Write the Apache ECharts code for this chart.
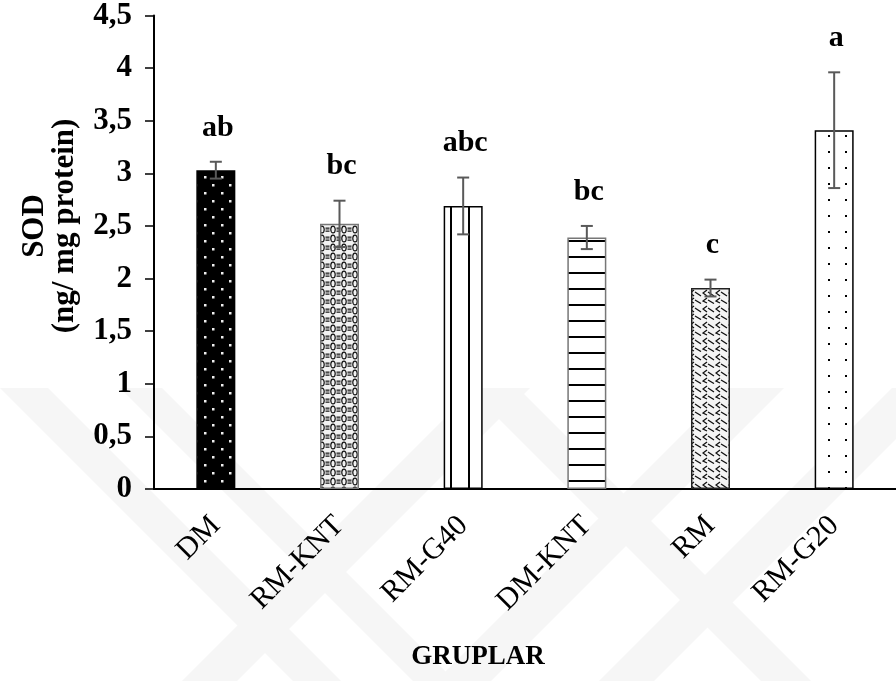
<!DOCTYPE html>
<html>
<head>
<meta charset="utf-8">
<script src="https://cdn.jsdelivr.net/npm/echarts@6/dist/echarts.min.js"></script>
<style>
  html, body { margin: 0; padding: 0; background: #ffffff; }
  #chart { width: 896px; height: 681px; }
</style>
</head>
<body>
<div id="chart"></div>
<script>
// SOD levels per group (mean ± error) with significance letters
const groups = ['DM', 'RM-KNT', 'RM-G40', 'DM-KNT', 'RM', 'RM-G20'];
const sodMeans = [3.03, 2.52, 2.69, 2.39, 1.91, 3.41];
const sodErrors = [0.08, 0.22, 0.27, 0.11, 0.08, 0.55];
const letters = ['ab', 'bc', 'abc', 'bc', 'c', 'a'];
const yMin = 0, yMax = 4.5, yStep = 0.5;

const SERIF = '"Liberation Serif", "Times New Roman", serif';

// Small canvas tiles used as fill patterns for the bars
function tile(w, h, draw) {
  const c = document.createElement('canvas');
  c.width = w; c.height = h;
  const g = c.getContext('2d');
  draw(g, w, h);
  return c;
}

const patterns = [
  // DM: black with staggered white dots
  tile(17, 16, (g, w, h) => {
    g.fillStyle = '#000'; g.fillRect(0, 0, w, h);
    g.fillStyle = '#eee';
    g.fillRect(0, 0, 2.5, 2.5);
    g.fillRect(8, 8, 2.5, 2.5);
  }),
  // RM-KNT: dense ring-and-dash weave
  tile(11, 9, (g, w, h) => {
    g.fillStyle = '#f2f2f2'; g.fillRect(0, 0, w, h);
    g.strokeStyle = '#111'; g.lineWidth = 1.2;
    g.beginPath(); g.ellipse(3, 4.5, 2.2, 3.4, 0, 0, Math.PI * 2); g.stroke();
    g.fillStyle = '#222';
    g.fillRect(6.5, 2.5, 4, 1.3);
    g.fillRect(6.5, 5.5, 4, 1.3);
    g.fillStyle = '#777';
    g.fillRect(6.5, 4.2, 4, 0.8);
  }),
  // RM-G40: vertical lines
  tile(18, 4, (g, w, h) => {
    g.fillStyle = '#fff'; g.fillRect(0, 0, w, h);
    g.fillStyle = '#000'; g.fillRect(0, 0, 2, h);
  }),
  // DM-KNT: horizontal lines
  tile(4, 16, (g, w, h) => {
    g.fillStyle = '#fff'; g.fillRect(0, 0, w, h);
    g.fillStyle = '#000'; g.fillRect(0, 0, w, 2);
  }),
  // RM: zigzag dashes
  tile(13, 16, (g, w, h) => {
    g.fillStyle = '#f4f4f4'; g.fillRect(0, 0, w, h);
    g.strokeStyle = '#111'; g.lineWidth = 1.3;
    g.beginPath();
    g.moveTo(5, 2); g.lineTo(1, 5); g.lineTo(5, 8);
    g.moveTo(6, 4); g.lineTo(12, 8);
    g.moveTo(5, 10); g.lineTo(1, 13); g.lineTo(5, 15);
    g.moveTo(6, 12); g.lineTo(12, 15.5);
    g.stroke();
  }),
  // RM-G20: sparse black dots
  tile(17, 16, (g, w, h) => {
    g.fillStyle = '#fff'; g.fillRect(0, 0, w, h);
    g.fillStyle = '#000'; g.fillRect(12, 7, 2, 2);
  })
];
const borderColors = ['#000', '#777', '#000', '#777', '#222', '#000'];

// Faint diagonal background bands (page watermark)
function band(xAt, yRef, dir, width) {
  const y0 = 388, y1 = 681;
  const xa = xAt + dir * (y0 - yRef), xb = xAt + dir * (y1 - yRef);
  return {
    type: 'polygon',
    z: -10,
    silent: true,
    shape: { points: [[xa, y0], [xa + width, y0], [xb + width, y1], [xb, y1]] },
    style: { fill: '#f6f6f6' }
  };
}
const watermark = [
  band(0, 388, 1, 48),
  band(120, 388, 1, 42),
  band(373, 490, -1, 55),
  band(627, 490, -1, 55),
  band(790, 490, -1, 55),
  band(520, 440, 1, 50)
];

const chart = echarts.init(document.getElementById('chart'), null, { renderer: 'canvas' });

chart.setOption({
  backgroundColor: '#ffffff',
  animation: false,
  grid: { left: 154, top: 14, height: 475, width: 749 },
  xAxis: {
    type: 'category',
    data: groups,
    axisLine: { show: true, lineStyle: { color: '#000', width: 2 } },
    axisTick: { show: false },
    axisLabel: {
      rotate: 45,
      margin: 32,
      interval: 0,
      color: '#000',
      fontFamily: SERIF,
      fontSize: 30
    }
  },
  yAxis: {
    type: 'value',
    min: yMin, max: yMax, interval: yStep,
    axisLine: { show: true, lineStyle: { color: '#000', width: 2 } },
    axisTick: { show: true, inside: false, length: 9, lineStyle: { color: '#000', width: 1.5 } },
    splitLine: { show: false },
    axisLabel: {
      margin: 22,
      color: '#000',
      fontFamily: SERIF,
      fontWeight: 'bold',
      fontSize: 31,
      formatter: v => String(v).replace('.', ',')
    }
  },
  graphic: watermark.concat([
    {
      type: 'text',
      x: 50, y: 226,
      rotation: Math.PI / 2,
      style: {
        text: 'SOD\n(ng/ mg protein)',
        font: 'bold 31px ' + SERIF,
        lineHeight: 30,
        align: 'center',
        verticalAlign: 'middle',
        fill: '#000'
      }
    },
    {
      type: 'text',
      x: 478, y: 657,
      style: {
        text: 'GRUPLAR',
        font: 'bold 27px ' + SERIF,
        align: 'center',
        verticalAlign: 'middle',
        fill: '#000'
      }
    }
  ]),
  series: [
    {
      type: 'bar',
      barWidth: 39,
      data: sodMeans.map((v, i) => ({
        value: v,
        itemStyle: {
          color: { image: patterns[i], repeat: 'repeat' },
          borderColor: borderColors[i],
          borderWidth: 1.5
        }
      })),
      z: 2
    },
    {
      type: 'custom',
      data: sodMeans.map((v, i) => [i, v, sodErrors[i]]),
      z: 5,
      renderItem(params, api) {
        const i = api.value(0), m = api.value(1), e = api.value(2);
        const top = api.coord([i, m + e]);
        const bot = api.coord([i, m - e]);
        const x = top[0], cap = 6;
        const ls = { stroke: '#595959', lineWidth: 2 };
        return {
          type: 'group',
          children: [
            { type: 'line', shape: { x1: x, y1: top[1], x2: x, y2: bot[1] }, style: ls },
            { type: 'line', shape: { x1: x - cap, y1: top[1], x2: x + cap, y2: top[1] }, style: ls },
            { type: 'line', shape: { x1: x - cap, y1: bot[1], x2: x + cap, y2: bot[1] }, style: ls },
            {
              type: 'text',
              x: x + 2, y: top[1] - 19,
              style: {
                text: letters[params.dataIndex],
                font: 'bold 30px ' + SERIF,
                align: 'center',
                verticalAlign: 'bottom',
                fill: '#000'
              }
            }
          ]
        };
      }
    }
  ]
});
</script>
</body>
</html>
